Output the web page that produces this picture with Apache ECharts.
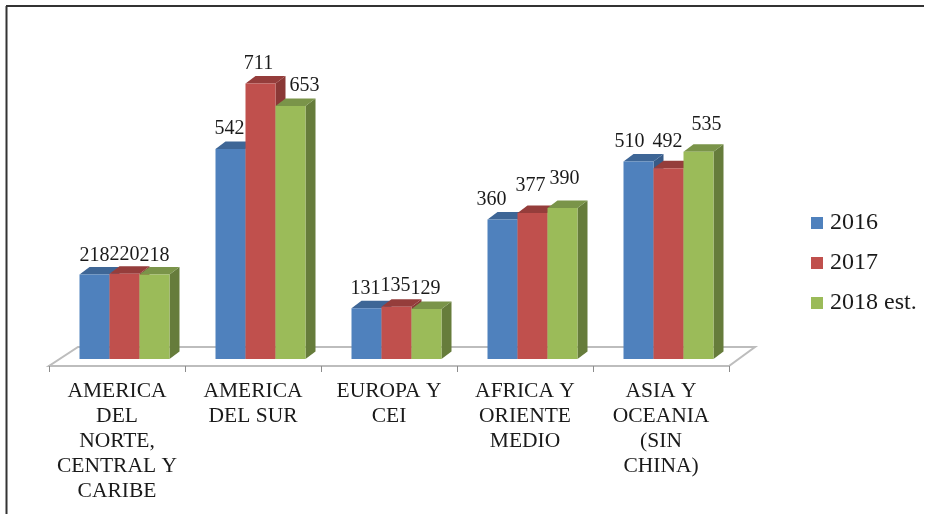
<!DOCTYPE html>
<html>
<head>
<meta charset="utf-8">
<style>html,body{margin:0;padding:0;background:#fff}#c{width:929px;height:514px}</style>
<script src="https://cdn.jsdelivr.net/npm/echarts@6/dist/echarts.min.js"></script>
</head>
<body>
<div id="c"></div>
<script>
const categories = ['AMERICA\nDEL\nNORTE,\nCENTRAL Y\nCARIBE','AMERICA\nDEL SUR','EUROPA Y\nCEI','AFRICA Y\nORIENTE\nMEDIO','ASIA Y\nOCEANIA\n(SIN\nCHINA)'];
const seriesNames = ['2016','2017','2018 est.'];
const values2016 = [218,542,131,360,510];
const values2017 = [220,711,135,377,492];
const values2018 = [218,653,129,390,535];

// label nudges from the default spot above each bar, [dx, dy] px
const nudge2016 = [[0,1],[-1,0],[-1,0],[-11,0],[-9,0]];
const nudge2017 = [[0,1],[-2,0],[-1,-1],[-2,-7],[-1,-7]];
const nudge2018 = [[0,1],[14,0],[-1,0],[2,-9],[8,-7]];

const FONT = '"Liberation Serif","Times New Roman",serif';
const palette = [
  {front:'#4F81BD',top:'#3E6696',side:'#375B87'},
  {front:'#C0504D',top:'#953D3B',side:'#8A3836'},
  {front:'#9BBB59',top:'#7A9449',side:'#667C3B'}
];
const DX = 10, DY = 7.5;

function barSeries(name, values, nudges, k){
  const c = palette[k];
  return {
    name, type:'custom', z:3, clip:false,
    itemStyle:{color:c.front},
    encode:{x:0,y:1},
    data: values.map((v,i)=>[i,v]),
    renderItem(params, api){
      const top = api.coord([api.value(0), api.value(1)]);
      const base = api.coord([api.value(0), 0]);
      const band = api.size([1,0])[0];
      const w = band*0.2206;
      const x0 = top[0] - 1.5*w + DX*0.75 + k*w;
      const x1 = x0 + w;
      const n = nudges[params.dataIndex];
      return {type:'group', children:[
        {type:'polygon', shape:{points:[[x1,top[1]],[x1+DX,top[1]-DY],[x1+DX,base[1]-DY],[x1,base[1]]]}, style:{fill:c.side}},
        {type:'polygon', shape:{points:[[x0,top[1]],[x0+DX,top[1]-DY],[x1+DX,top[1]-DY],[x1,top[1]]]}, style:{fill:c.top}},
        {type:'rect', shape:{x:x0,y:top[1],width:w,height:base[1]-top[1]}, style:{fill:c.front}},
        {type:'text', z2:100, style:{text:String(api.value(1)), x:(x0+x1)/2+n[0], y:top[1]-20+n[1], align:'center', verticalAlign:'middle', fontFamily:FONT, fontSize:20, fill:'#1a1a1a'}}
      ]};
    }
  };
}

const floorSeries = {
  type:'custom', z:0, clip:false, silent:true, legendHoverLink:false,
  encode:{x:0,y:1}, data:[[0,0]],
  renderItem(params, api){
    const p = api.coord([0,0]);
    const band = api.size([1,0])[0];
    const L = p[0]-band/2, R = L+band*categories.length, y = p[1];
    return {type:'group', children:[
      {type:'polygon', shape:{points:[[L,y+7],[R,y+7],[R+26,y-12],[L+29,y-12]]}, style:{fill:'#fff',stroke:'#BDBDBD',lineWidth:2}}
    ]};
  }
};

const chart = echarts.init(document.getElementById('c'), null, {renderer:'canvas'});
chart.setOption({
  animation:false,
  backgroundColor:'#fff',
  graphic:[
    {type:'line', z:10, shape:{x1:6.5,y1:6,x2:6.5,y2:514}, style:{stroke:'#333',lineWidth:2}},
    {type:'line', z:10, shape:{x1:6,y1:6,x2:924,y2:6}, style:{stroke:'#333',lineWidth:2}}
  ],
  grid:{left:49, width:680, top:49, height:317},
  xAxis:{
    type:'category', data:categories, z:2,
    axisLine:{show:true,onZero:false,lineStyle:{color:'#BDBDBD',width:2}},
    axisTick:{show:true,length:6,inside:false,lineStyle:{color:'#8c8c8c',width:1}},
    axisLabel:{interval:0,fontFamily:FONT,fontSize:21.5,lineHeight:25,color:'#1a1a1a',margin:13}
  },
  yAxis:{type:'value',min:-18,max:800,show:false,splitLine:{show:false}},
  legend:{
    orient:'vertical', left:806, top:205, itemWidth:12, itemHeight:12, itemGap:14, icon:'rect',
    data:seriesNames,
    textStyle:{fontFamily:FONT,fontSize:24,lineHeight:26,color:'#1a1a1a',padding:[0,0,0,2]}
  },
  series:[
    floorSeries,
    barSeries(seriesNames[0],values2016,nudge2016,0),
    barSeries(seriesNames[1],values2017,nudge2017,1),
    barSeries(seriesNames[2],values2018,nudge2018,2)
  ]
});
</script>
</body>
</html>
